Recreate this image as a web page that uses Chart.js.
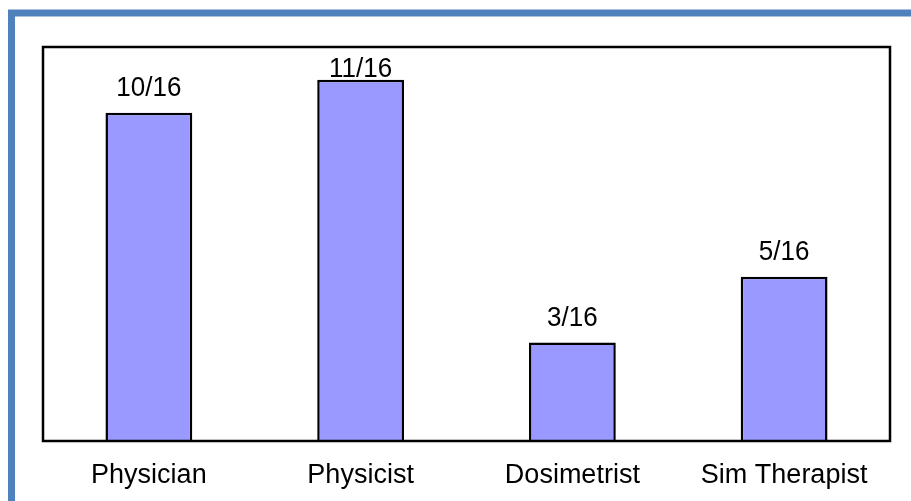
<!DOCTYPE html>
<html>
<head>
<meta charset="utf-8">
<script src="https://cdn.jsdelivr.net/npm/chart.js@4/dist/chart.umd.min.js"></script>
<style>
html,body{margin:0;padding:0;background:#fff;}
#wrap{width:911px;height:501px;position:relative;}
</style>
</head>
<body>
<div id="wrap"><canvas id="c" width="911" height="501"></canvas></div>
<script>
const categories = ["Physician", "Physicist", "Dosimetrist", "Sim Therapist"];
const counts = [10, 11, 3, 5];
const barLabels = ["10/16", "11/16", "3/16", "5/16"];
const yMax = 12;

const FONT = "'Liberation Sans', Arial, sans-serif";

const framePlugin = {
  id: 'frame',
  beforeDraw(chart) {
    const ctx = chart.ctx;
    ctx.save();
    ctx.fillStyle = '#fff';
    ctx.fillRect(0, 0, chart.width, chart.height);
    ctx.strokeStyle = '#4F81BD';
    ctx.lineWidth = 7;
    ctx.strokeRect(11.5, 13, 1200, 1200);
    ctx.restore();
  },
  afterDatasetsDraw(chart) {
    const ctx = chart.ctx;
    const a = chart.chartArea;
    ctx.save();
    ctx.strokeStyle = '#000';
    ctx.lineWidth = 2.5;
    ctx.strokeRect(a.left, a.top, a.right - a.left, a.bottom - a.top);
    const meta = chart.getDatasetMeta(0);
    ctx.fillStyle = '#000';
    ctx.font = '26px ' + FONT;
    ctx.textAlign = 'center';
    ctx.textBaseline = 'alphabetic';
    meta.data.forEach((bar, i) => {
      const y = Math.max(bar.y - 17, a.top + 30);
      ctx.save();
      ctx.translate(bar.x, y);
      ctx.scale(1, 1.07);
      ctx.fillText(barLabels[i], 0, 0);
      ctx.restore();
    });
    ctx.restore();
  }
};

new Chart(document.getElementById('c'), {
  type: 'bar',
  data: {
    labels: categories,
    datasets: [{
      data: counts,
      backgroundColor: '#9999FF',
      borderColor: '#000000',
      borderWidth: 2.5,
      borderSkipped: 'bottom',
      categoryPercentage: 1,
      barPercentage: 0.41
    }]
  },
  options: {
    responsive: false,
    animation: false,
    devicePixelRatio: 1,
    layout: { padding: { left: 43, right: 21, top: 47, bottom: 0 } },
    plugins: { legend: { display: false }, tooltip: { enabled: false } },
    scales: {
      x: {
        grid: { display: false, drawTicks: false },
        border: { display: false },
        ticks: { color: '#000', font: { family: FONT, size: 27 }, padding: 18, maxRotation: 0, autoSkip: false },
        afterFit(s) { s.height = 60; }
      },
      y: {
        display: false,
        min: 0,
        max: yMax
      }
    }
  },
  plugins: [framePlugin]
});
</script>
</body>
</html>
